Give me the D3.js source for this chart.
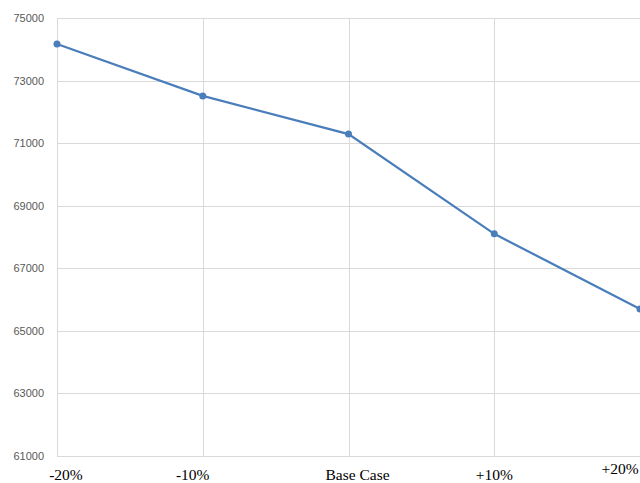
<!DOCTYPE html>
<html>
<head>
<meta charset="utf-8">
<script src="https://cdn.jsdelivr.net/npm/d3@7"></script>
<style>
  body { margin: 0; background: #fff; }
  svg { display: block; }
</style>
</head>
<body>
<script>
// chart data
var categories = ["-20%", "-10%", "Base Case", "+10%", "+20%"];
var values = [74170, 72510, 71290, 68100, 65700];
var yTicks = [61000, 63000, 65000, 67000, 69000, 71000, 73000, 75000];

var width = 640, height = 483;
var svg = d3.select("body").append("svg")
    .attr("width", width)
    .attr("height", height);

var x = d3.scalePoint()
    .domain(categories)
    .range([57, 640]);

var y = d3.scaleLinear()
    .domain([61000, 75000])
    .range([456, 18]);

// horizontal gridlines
svg.append("g")
    .selectAll("line")
    .data(yTicks)
    .enter().append("line")
    .attr("x1", 57).attr("x2", width)
    .attr("y1", function (d) { return Math.round(y(d)) + 0.5; })
    .attr("y2", function (d) { return Math.round(y(d)) + 0.5; })
    .attr("stroke", "#d9d9d9")
    .attr("stroke-width", 1);

// vertical gridlines
svg.append("g")
    .selectAll("line")
    .data(categories)
    .enter().append("line")
    .attr("x1", function (d) { return Math.round(x(d)) + 0.5; })
    .attr("x2", function (d) { return Math.round(x(d)) + 0.5; })
    .attr("y1", 18).attr("y2", 456)
    .attr("stroke", "#d9d9d9")
    .attr("stroke-width", 1);

// y labels
svg.append("g")
    .selectAll("text")
    .data(yTicks)
    .enter().append("text")
    .attr("x", 44)
    .attr("y", function (d) { return y(d) + 4; })
    .attr("text-anchor", "end")
    .attr("font-family", "'Liberation Sans', Arial, sans-serif")
    .attr("font-size", "11px")
    .attr("fill", "#595959")
    .text(function (d) { return d; });

// x labels (serif, slightly nudged like the original)
var labelDx = [9, -10, 9, 0, -20];
var labelDy = [0, 0, 0, 0, -6];
svg.append("g")
    .selectAll("text")
    .data(categories)
    .enter().append("text")
    .attr("x", function (d, i) { return x(d) + labelDx[i]; })
    .attr("y", function (d, i) { return 480 + labelDy[i]; })
    .attr("text-anchor", "middle")
    .attr("font-family", "'Liberation Serif', 'Times New Roman', serif")
    .attr("font-size", "15.5px")
    .attr("fill", "#000")
    .text(function (d) { return d; });

var line = d3.line()
    .x(function (d, i) { return x(categories[i]); })
    .y(function (d) { return y(d); });

svg.append("path")
    .datum(values)
    .attr("d", line)
    .attr("fill", "none")
    .attr("stroke", "#4a7ebb")
    .attr("stroke-width", 2.25);

svg.append("g")
    .selectAll("circle")
    .data(values)
    .enter().append("circle")
    .attr("cx", function (d, i) { return x(categories[i]); })
    .attr("cy", function (d) { return y(d); })
    .attr("r", 3.5)
    .attr("fill", "#4a7ebb");
</script>
</body>
</html>
